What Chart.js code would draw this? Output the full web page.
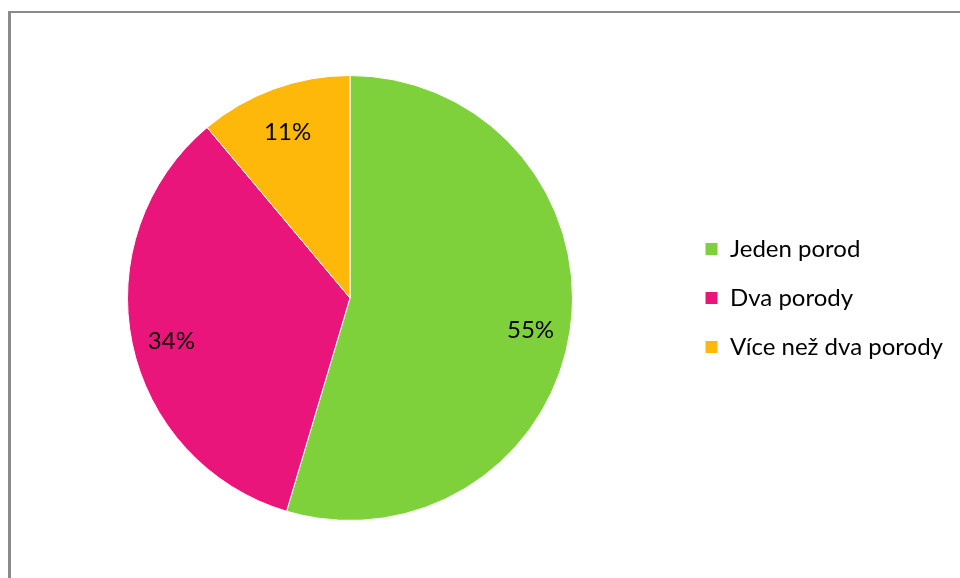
<!DOCTYPE html>
<html>
<head>
<meta charset="utf-8">
<script src="https://cdn.jsdelivr.net/npm/chart.js@4"></script>
<style>
  html, body { margin: 0; padding: 0; background: #fff; overflow: hidden; }
  #wrap { position: relative; width: 960px; height: 578px; }
  #frame {
    position: absolute; left: 8px; top: 11px; width: 1000px; height: 600px;
    border-left: 3px solid #8a8a8a; border-top: 2px solid #8a8a8a;
  }
  canvas { position: absolute; left: 0; top: 0; }
</style>
</head>
<body>
<div id="wrap">
  <div id="frame"></div>
  <canvas id="pie" width="960" height="578"></canvas>
</div>
<script>
// Pie chart: number of births

const categories = ['Jeden porod', 'Dva porody', 'Více než dva porody'];
const shares = [54.6, 34.3, 11.1];
const colors = ['#7FD13B', '#EA157A', '#FEB80A'];

const FONT = 'Lato, "Open Sans", sans-serif';

// Percentage labels inside each slice
const sliceLabels = {
  id: 'sliceLabels',
  afterDatasetsDraw(chart) {
    const ctx = chart.ctx;
    const meta = chart.getDatasetMeta(0);
    const total = shares.reduce((a, b) => a + b, 0);
    ctx.save();
    ctx.font = '24px ' + FONT;
    ctx.fillStyle = '#000';
    ctx.textAlign = 'center';
    ctx.textBaseline = 'middle';
    meta.data.forEach((arc, i) => {
      const p = arc.getProps(['x', 'y', 'startAngle', 'endAngle', 'outerRadius'], true);
      const mid = (p.startAngle + p.endAngle) / 2;
      const r = p.outerRadius * 0.82;
      const pct = Math.round(shares[i] / total * 100) + '%';
      ctx.fillText(pct, p.x + Math.cos(mid) * r, p.y + Math.sin(mid) * r + 6);
    });
    ctx.restore();
  }
};

new Chart(document.getElementById('pie'), {
  type: 'pie',
  data: {
    labels: categories,
    datasets: [{
      data: shares,
      backgroundColor: colors,
      borderColor: '#ffffff',
      borderWidth: 1,
    }]
  },
  options: {
    responsive: false,
    animation: false,
    layout: {
      padding: { left: 20, right: 15, top: 75, bottom: 57 }
    },
    plugins: {
      tooltip: { enabled: false },
      legend: {
        position: 'right',
        maxWidth: 265,
        labels: {
          boxWidth: 13,
          boxHeight: 13,
          padding: 25,
          color: '#000',
          font: { family: FONT, size: 24 }
        }
      }
    }
  },
  plugins: [sliceLabels]
});
</script>
</body>
</html>
